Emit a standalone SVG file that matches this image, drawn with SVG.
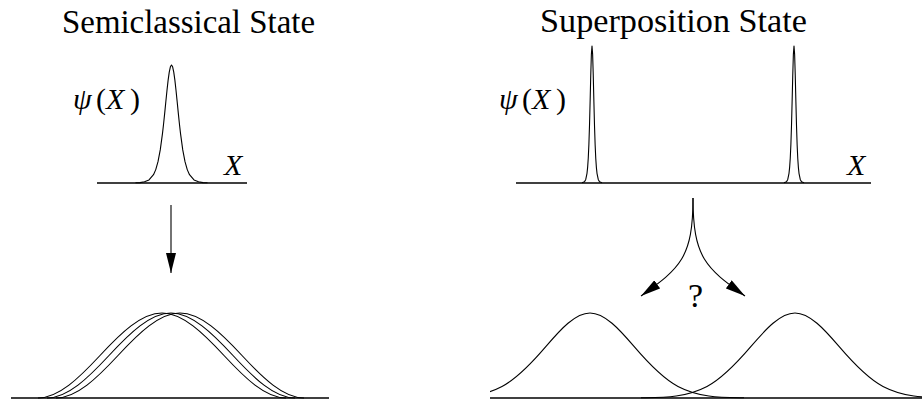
<svg xmlns="http://www.w3.org/2000/svg" xmlns:xlink="http://www.w3.org/1999/xlink" width="922" height="404" viewBox="0 0 922 404">
  <style>
    .ax { fill: none; stroke: #000; stroke-width: 1.3; }
    .cv { fill: none; stroke: #000; stroke-width: 1.1; stroke-linejoin: round; }
    .ar { fill: none; stroke: #000; stroke-width: 1.1; }
    .it { font-style: italic; }
    .txt { font-family: "Liberation Serif", "DejaVu Serif", serif; fill: #000; }
  </style>
  <defs>
    <marker id="head" viewBox="0 0 20 10" refX="20" refY="5" markerWidth="20" markerHeight="10" markerUnits="userSpaceOnUse" orient="auto">
      <path d="M0,0 L20,5 L0,10 z" fill="#000"/>
    </marker>
    <path id="spike" d="M-10,182.8 L-7.5,181.65 L-6.25,179.4 L-5,173.3 L-4.375,167.4 L-3.75,158.2 L-3.125,144.6 L-2.5,125.5 L-1.875,101.3 L-1.25,75.3 L-0.625,54.2 L0,46 L0.625,54.2 L1.25,75.3 L1.875,101.3 L2.5,125.5 L3.125,144.6 L3.75,158.2 L4.375,167.4 L5,173.3 L6.25,179.4 L7.5,181.65 L10,182.8"/>
    <path id="wide" d="M-124,398 C-103.33,398 -82.67,377.75 -62,355.5 C-41.33,333.25 -20.67,313 0,313 C20.67,313 41.33,333.25 62,355.5 C82.67,377.75 103.33,398 124,398"/>
    <path id="gauss" d="M-154,397.81 C-132,397.49 -110,398 -88,386.5 C-73.33,378.83 -58.67,363.63 -44,346.45 C-29.33,329.26 -14.67,313 0,313 C14.67,313 29.33,329.26 44,346.45 C58.67,363.63 73.33,378.83 88,386.5 C110,398 132,397.49 154,397.81"/>
    <clipPath id="clipR"><rect x="490" y="290" width="432" height="114"/></clipPath>
  </defs>

  <g id="title-semiclassical">
    <text class="txt" x="62" y="33" font-size="33" textLength="253" lengthAdjust="spacingAndGlyphs">Semiclassical State</text>
  </g>
  <g id="title-superposition">
    <text class="txt" x="540" y="32" font-size="33" textLength="267" lengthAdjust="spacingAndGlyphs">Superposition State</text>
  </g>

  <g id="semiclassical-initial">
    <path class="ax" d="M97,183 H247"/>
    <path class="cv" d="M135.5,182.8 L140,182.6 L144.5,181.8 L149,179.9 L153.5,174.7 L155.75,169.6 L158,161.7 L160.25,149.9 L162.5,133.4 L163.625,123.5 L164.75,112.6 L165.875,101.3 L167,90.2 L168.125,80.1 L169.25,72.1 L170.375,66.8 L171.5,65 L172.625,66.8 L173.75,72.1 L174.875,80.1 L176,90.2 L177.125,101.3 L178.25,112.6 L179.375,123.5 L180.5,133.4 L182.75,149.9 L185,161.7 L187.25,169.6 L189.5,174.7 L194,179.9 L198.5,181.8 L203,182.6 L207.5,182.8"/>
    <text class="txt" font-size="30"><tspan class="it" x="73" y="109">ψ</tspan><tspan x="96" y="109">(</tspan><tspan class="it" x="106" y="109">X</tspan><tspan x="130" y="109">)</tspan></text>
    <text class="txt it" x="224" y="175" font-size="30">X</text>
  </g>

  <g id="superposition-initial">
    <path class="ax" d="M516,183 H871"/>
    <use xlink:href="#spike" href="#spike" class="cv" x="592"/>
    <use xlink:href="#spike" href="#spike" class="cv" x="794"/>
    <text class="txt" font-size="30"><tspan class="it" x="499" y="109">ψ</tspan><tspan x="522" y="109">(</tspan><tspan class="it" x="532" y="109">X</tspan><tspan x="556" y="109">)</tspan></text>
    <text class="txt it" x="847" y="175" font-size="30">X</text>
  </g>

  <g id="semiclassical-evolved">
    <path class="ax" d="M11,398 H329"/>
    <use xlink:href="#wide" href="#wide" class="cv" x="162"/>
    <use xlink:href="#wide" href="#wide" class="cv" x="171"/>
    <use xlink:href="#wide" href="#wide" class="cv" x="180"/>
  </g>

  <g id="superposition-evolved">
    <path class="ax" d="M490,398 H922"/>
    <g clip-path="url(#clipR)">
      <use xlink:href="#gauss" href="#gauss" class="cv" x="590"/>
      <use xlink:href="#gauss" href="#gauss" class="cv" x="795"/>
    </g>
  </g>

  <g id="connectors">
    <path class="ar" d="M171,205 L171,273" marker-end="url(#head)"/>
    <path class="ar" d="M693,198 C693,258 680,268 641,296" marker-end="url(#head)"/>
    <path class="ar" d="M693,198 C693,258 706,268 745,296" marker-end="url(#head)"/>
    <text class="txt" x="695.5" y="307" text-anchor="middle" font-size="34">?</text>
  </g>
</svg>
